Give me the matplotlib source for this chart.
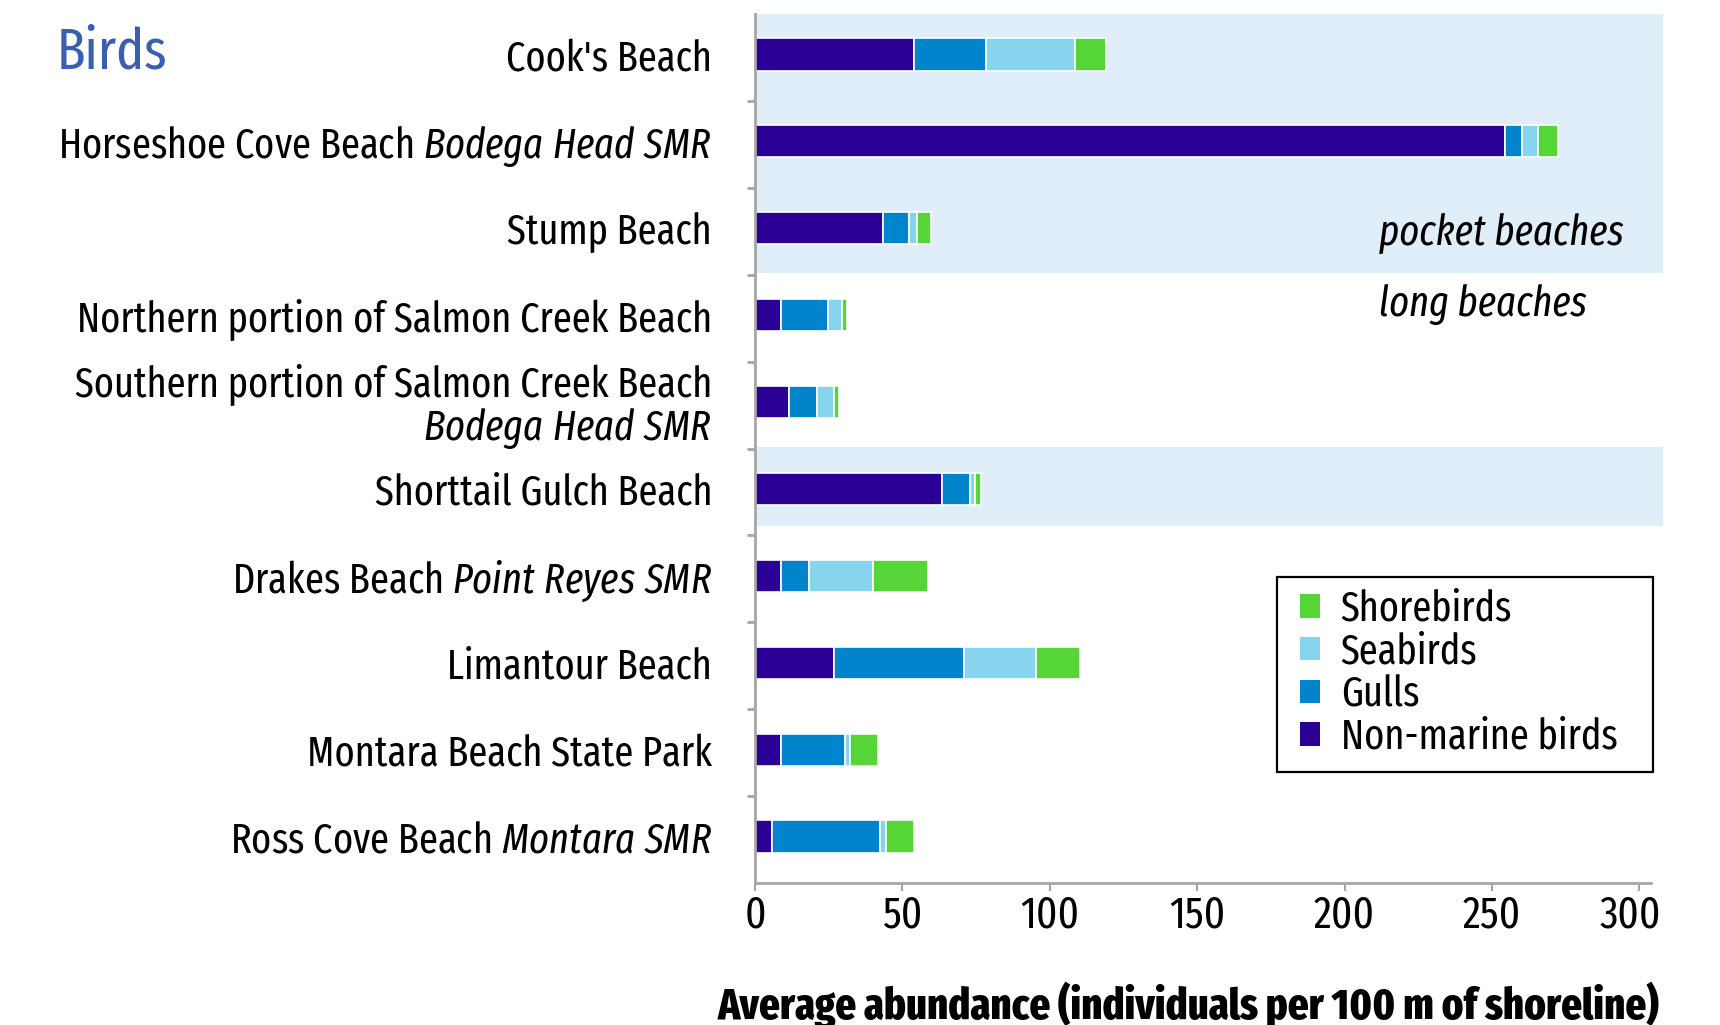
import matplotlib
matplotlib.use("Agg")
import matplotlib.pyplot as plt
import matplotlib.transforms as mtransforms
from matplotlib.patches import Rectangle, Patch
import numpy as np

# data (individuals per 100 m of shoreline)
beaches = ["Cook's Beach",
           r"Horseshoe Cove Beach $\mathit{Bodega\ Head\ SMR}$",
           "Stump Beach",
           "Northern portion of Salmon Creek Beach",
           "Southern portion of Salmon Creek Beach\n$\\mathit{Bodega\\ Head\\ SMR}$",
           "Shorttail Gulch Beach",
           r"Drakes Beach $\mathit{Point\ Reyes\ SMR}$",
           "Limantour Beach",
           "Montara Beach State Park",
           r"Ross Cove Beach $\mathit{Montara\ SMR}$"]
nonmarine = [54.0, 254.3, 43.5, 8.8, 11.6, 63.3, 8.7, 26.7, 8.7, 5.9]
gulls = [24.5, 5.8, 8.6, 16.1, 9.4, 9.5, 9.5, 44.2, 21.7, 36.6]
seabirds = [30.0, 5.5, 2.7, 4.5, 5.7, 1.9, 21.7, 24.5, 1.9, 2.0]
shorebirds = [10.6, 6.7, 4.9, 1.9, 1.8, 1.9, 18.8, 14.9, 9.3, 9.4]

groups = ["Non-marine birds", "Gulls", "Seabirds", "Shorebirds"]
colors = ["#2a0096", "#0084cc", "#86d4ee", "#55d636"]
xticks = [0, 50, 100, 150, 200, 250, 300]

fnt = "Fira Sans Extra Condensed"
plt.rcParams["font.family"] = [fnt, "DejaVu Sans"]
plt.rcParams["mathtext.fontset"] = "custom"
plt.rcParams["mathtext.rm"] = fnt
plt.rcParams["mathtext.it"] = fnt + ":italic"

fig = plt.figure(figsize=(17.2, 10.25), dpi=100)
ax = fig.add_axes([0.439, 0.1385, 0.521, 0.8478])

# bars sit a touch above the middle of each band
y = np.arange(len(beaches)) - 0.035
left = np.zeros(len(beaches))
for vals, col in zip([nonmarine, gulls, seabirds, shorebirds], colors):
    ax.barh(y, vals, left=left, height=0.37, color=col, edgecolor="white",
            linewidth=1.2, zorder=2)
    left += np.array(vals)

# pale blue bands behind the pocket beaches
shade = "#e0eef9"
ax.add_patch(Rectangle((0, -0.5), 308, 2.98, facecolor=shade, edgecolor="none",
                       clip_on=False, zorder=0))
ax.add_patch(Rectangle((0, 4.48), 308, 0.91, facecolor=shade, edgecolor="none",
                       clip_on=False, zorder=0))

ax.set_xlim(0, 304)
ax.set_ylim(9.5, -0.5)
ax.set_yticks(y)
ax.set_yticklabels(beaches)
ax.set_yticks(np.arange(0.5, 9, 1), minor=True)
ax.set_xticks(xticks)
ax.tick_params(axis="y", which="major", length=0, pad=31, labelsize=30)
ax.tick_params(axis="y", which="minor", length=6, width=2, color="#a6a6a6")
ax.tick_params(axis="x", length=6, width=1.5, color="#a6a6a6", labelsize=32, pad=2)
for lab in ax.get_yticklabels():
    lab.set_linespacing(1.0)
# last x label is nudged left like in the original
lab300 = ax.get_xticklabels()[-1]
lab300.set_transform(lab300.get_transform() +
                     mtransforms.ScaledTranslation(-9 / 100, 0, fig.dpi_scale_trans))

for s in ["top", "right"]:
    ax.spines[s].set_visible(False)
for s in ["left", "bottom"]:
    ax.spines[s].set_color("#a6a6a6")
    ax.spines[s].set_linewidth(2)

ax.text(0.970, 0.747, "pocket beaches", transform=ax.transAxes, ha="right",
        va="center", fontsize=30, style="italic")
ax.text(0.696, 0.666, "long beaches", transform=ax.transAxes, ha="left",
        va="center", fontsize=30, style="italic")

fig.text(0.033, 0.948, "Birds", color="#3a5fb0", fontsize=41, va="center", ha="left")
fig.text(0.691, 0.006, "Average abundance (individuals per 100 m of shoreline)",
         ha="center", va="baseline", fontsize=31.7, fontweight=800)

# legend without its own frame, box drawn separately for the wider side padding
handles = [Patch(facecolor=c, edgecolor="none") for c in colors[::-1]]
leg = ax.legend(handles, groups[::-1], loc="upper left", bbox_to_anchor=(0.608, 0.3384),
                borderaxespad=0, fontsize=30, frameon=False,
                handlelength=0.48, handleheight=0.48, handletextpad=0.5,
                labelspacing=0.04, borderpad=0)
ax.add_patch(Rectangle((0.5826, 0.1277), 0.4194, 0.2243, transform=ax.transAxes,
                       facecolor="none", edgecolor="black", linewidth=1.6,
                       clip_on=False, zorder=5))

fig.savefig("out.png", dpi=100)
